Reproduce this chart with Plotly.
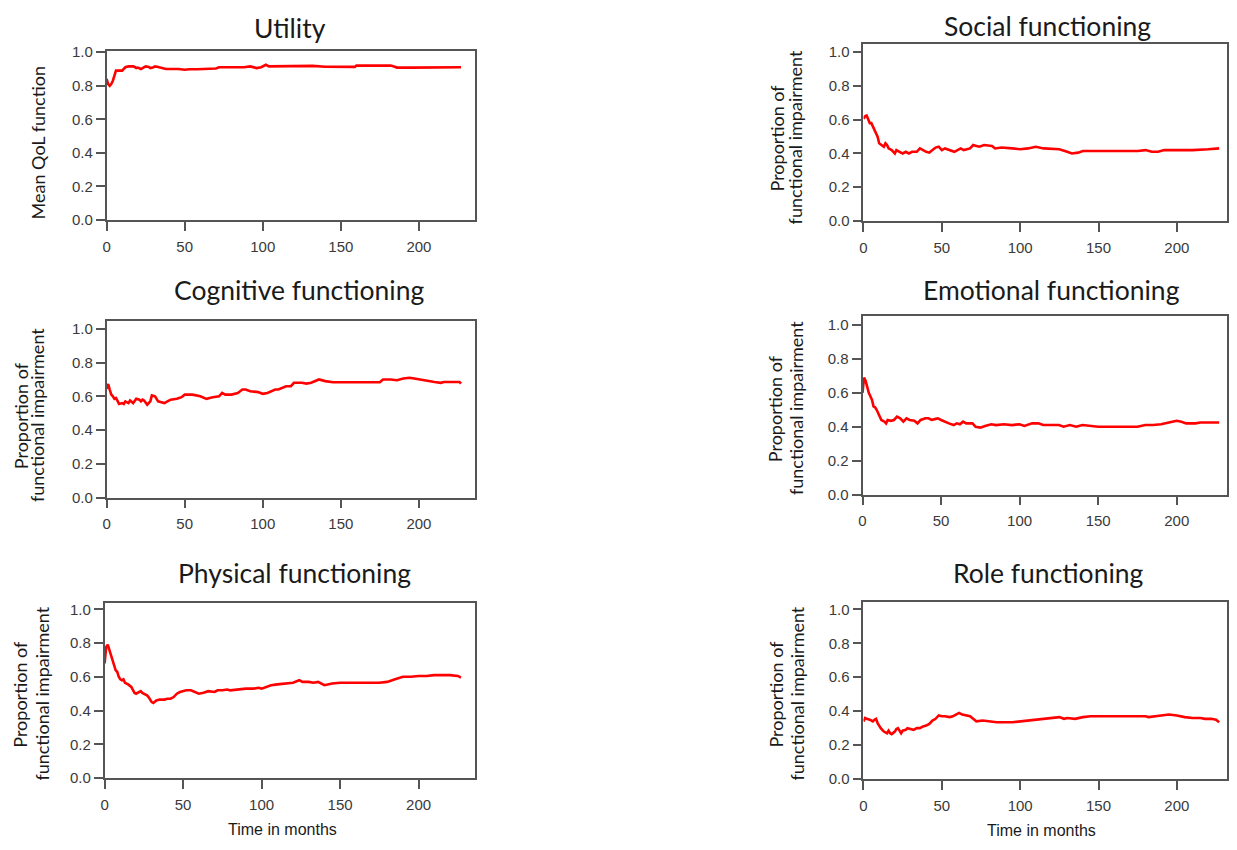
import plotly.graph_objects as go

# ---------------- data ----------------
utility_months = [0, 1, 2, 3, 4, 5, 6, 8, 10, 11, 12, 14, 16, 17, 18, 19, 20, 21, 22, 23, 25, 27, 28, 30, 31,
                  33, 35, 38, 42, 46, 50, 53, 58, 63, 65, 70, 72, 75, 78, 82, 85, 88, 92, 94, 96, 99, 101, 102,
                  104, 110, 120, 130, 132, 140, 150, 159, 160, 165, 175, 182, 184, 186, 195, 210, 227]
utility_values = [0.84, 0.81, 0.80, 0.81, 0.83, 0.86, 0.89, 0.89, 0.89, 0.90, 0.91, 0.915, 0.917, 0.915, 0.912,
                  0.905, 0.908, 0.905, 0.90, 0.905, 0.915, 0.912, 0.905, 0.91, 0.915, 0.912, 0.908, 0.90, 0.90,
                  0.90, 0.895, 0.898, 0.898, 0.90, 0.905, 0.903, 0.91, 0.91, 0.913, 0.91, 0.912, 0.91, 0.915,
                  0.912, 0.905, 0.91, 0.92, 0.925, 0.915, 0.915, 0.914, 0.915, 0.918, 0.913, 0.912, 0.912, 0.92,
                  0.92, 0.92, 0.92, 0.915, 0.908, 0.908, 0.908, 0.91]

social_months = [0, 1, 2, 3, 4, 5, 6, 7, 8, 9, 10, 12, 13, 14, 15, 16, 18, 20, 21, 23, 25, 27, 29, 31, 34, 36,
                 38, 40, 42, 44, 46, 48, 50, 52, 55, 58, 62, 64, 68, 70, 72, 74, 77, 82, 84, 88, 95, 100, 105,
                 110, 115, 125, 130, 133, 137, 140, 175, 180, 184, 188, 192, 200, 210, 220, 227]
social_values = [0.606, 0.62, 0.625, 0.60, 0.58, 0.58, 0.56, 0.55, 0.52, 0.50, 0.46, 0.45, 0.44, 0.46, 0.45,
                 0.43, 0.42, 0.40, 0.42, 0.41, 0.40, 0.41, 0.40, 0.41, 0.41, 0.43, 0.42, 0.41, 0.405, 0.42,
                 0.435, 0.44, 0.42, 0.43, 0.42, 0.41, 0.43, 0.42, 0.43, 0.45, 0.445, 0.44, 0.45, 0.445, 0.43,
                 0.435, 0.43, 0.425, 0.43, 0.44, 0.43, 0.425, 0.41, 0.40, 0.405, 0.415, 0.415, 0.42, 0.41,
                 0.41, 0.42, 0.42, 0.42, 0.425, 0.43]

cognitive_months = [0, 1, 2, 3, 4, 5, 6, 7, 8, 10, 11, 12, 14, 15, 17, 19, 21, 22, 23, 24, 25, 26, 28, 29, 31,
                    33, 35, 37, 39, 41, 45, 48, 50, 55, 60, 64, 66, 68, 72, 74, 76, 80, 84, 87, 89, 92, 97, 100,
                    103, 106, 108, 110, 112, 115, 118, 120, 125, 128, 131, 134, 136, 140, 145, 175, 177, 182,
                    186, 190, 194, 197, 200, 205, 210, 214, 216, 222, 226, 227]
cognitive_values = [0.644, 0.673, 0.64, 0.61, 0.60, 0.585, 0.59, 0.57, 0.555, 0.56, 0.555, 0.57, 0.56, 0.575,
                    0.56, 0.585, 0.58, 0.57, 0.58, 0.575, 0.56, 0.55, 0.57, 0.605, 0.60, 0.57, 0.565, 0.56,
                    0.57, 0.58, 0.585, 0.595, 0.61, 0.61, 0.60, 0.585, 0.59, 0.595, 0.60, 0.62, 0.61, 0.61,
                    0.62, 0.64, 0.64, 0.63, 0.625, 0.615, 0.62, 0.63, 0.64, 0.64, 0.65, 0.66, 0.66, 0.68, 0.68,
                    0.675, 0.68, 0.69, 0.70, 0.69, 0.683, 0.683, 0.70, 0.70, 0.695, 0.705, 0.71, 0.705, 0.70,
                    0.69, 0.685, 0.68, 0.685, 0.685, 0.685, 0.675]

emotional_months = [0, 1, 2, 3, 4, 5, 6, 7, 8, 9, 10, 11, 12, 14, 15, 16, 18, 20, 22, 24, 26, 28, 30, 33, 35,
                    37, 40, 42, 44, 46, 48, 50, 52, 55, 58, 60, 62, 64, 66, 70, 72, 75, 78, 82, 85, 90, 95, 100,
                    103, 108, 112, 115, 125, 128, 132, 136, 140, 145, 150, 175, 180, 185, 190, 195, 200, 203,
                    206, 212, 215, 227]
emotional_values = [0.60, 0.69, 0.67, 0.63, 0.60, 0.58, 0.56, 0.52, 0.515, 0.50, 0.48, 0.46, 0.44, 0.43, 0.42,
                    0.44, 0.435, 0.44, 0.46, 0.45, 0.43, 0.45, 0.44, 0.435, 0.42, 0.44, 0.45, 0.45, 0.44,
                    0.445, 0.45, 0.44, 0.43, 0.42, 0.41, 0.42, 0.415, 0.43, 0.42, 0.42, 0.40, 0.395, 0.405,
                    0.415, 0.41, 0.415, 0.41, 0.415, 0.405, 0.42, 0.42, 0.41, 0.41, 0.40, 0.41, 0.40, 0.41,
                    0.405, 0.40, 0.40, 0.41, 0.41, 0.415, 0.425, 0.435, 0.43, 0.42, 0.42, 0.425, 0.425]

physical_months = [0, 1, 2, 3, 4, 5, 6, 7, 8, 9, 10, 11, 12, 13, 14, 15, 17, 18, 19, 20, 22, 23, 24, 25, 27,
                   28, 30, 31, 33, 35, 38, 40, 42, 44, 46, 48, 50, 52, 55, 58, 60, 63, 66, 70, 72, 75, 78, 80,
                   85, 90, 95, 98, 100, 103, 106, 110, 115, 120, 124, 126, 130, 133, 136, 140, 145, 150, 175,
                   180, 185, 190, 195, 200, 205, 210, 215, 220, 225, 227]
physical_values = [0.68, 0.777, 0.79, 0.76, 0.72, 0.69, 0.66, 0.64, 0.63, 0.60, 0.585, 0.58, 0.585, 0.565,
                   0.56, 0.555, 0.54, 0.52, 0.505, 0.50, 0.51, 0.515, 0.505, 0.50, 0.49, 0.48, 0.45, 0.445,
                   0.46, 0.465, 0.465, 0.47, 0.47, 0.48, 0.50, 0.51, 0.515, 0.52, 0.52, 0.51, 0.50, 0.505,
                   0.515, 0.51, 0.52, 0.52, 0.525, 0.52, 0.525, 0.53, 0.53, 0.535, 0.53, 0.54, 0.55, 0.555,
                   0.56, 0.565, 0.58, 0.57, 0.57, 0.565, 0.57, 0.55, 0.56, 0.565, 0.565, 0.57, 0.585, 0.60,
                   0.60, 0.605, 0.605, 0.61, 0.61, 0.61, 0.605, 0.595]

role_months = [0, 1, 2, 3, 4, 5, 6, 7, 8, 9, 10, 11, 12, 13, 15, 16, 17, 18, 20, 21, 22, 23, 24, 25, 27, 28,
               30, 32, 34, 36, 38, 40, 42, 44, 46, 48, 50, 52, 55, 57, 59, 61, 63, 65, 68, 70, 72, 76, 80, 85,
               95, 100, 105, 110, 115, 120, 125, 128, 130, 135, 140, 145, 175, 180, 182, 185, 190, 195, 200,
               205, 210, 215, 218, 222, 225, 227]
role_values = [0.34, 0.36, 0.355, 0.35, 0.35, 0.345, 0.34, 0.35, 0.355, 0.33, 0.31, 0.30, 0.29, 0.28, 0.27,
               0.285, 0.27, 0.265, 0.28, 0.295, 0.30, 0.28, 0.27, 0.285, 0.29, 0.30, 0.295, 0.29, 0.30, 0.30,
               0.31, 0.315, 0.325, 0.345, 0.355, 0.375, 0.37, 0.37, 0.365, 0.37, 0.38, 0.39, 0.38, 0.375,
               0.37, 0.355, 0.34, 0.345, 0.34, 0.335, 0.335, 0.34, 0.345, 0.35, 0.355, 0.36, 0.365, 0.355,
               0.36, 0.355, 0.365, 0.37, 0.37, 0.37, 0.365, 0.37, 0.375, 0.38, 0.375, 0.365, 0.36, 0.36,
               0.355, 0.355, 0.35, 0.335]

panel_titles = ["Utility", "Social functioning", "Cognitive functioning",
                "Emotional functioning", "Physical functioning", "Role functioning"]
x_ticks = [0, 50, 100, 150, 200]
y_ticks = [0.0, 0.2, 0.4, 0.6, 0.8, 1.0]
y_tick_labels = ["0.0", "0.2", "0.4", "0.6", "0.8", "1.0"]

# ---------------- layout helpers ----------------
# The page body keeps its default 8px margin, so the figure is made 16px smaller
# than the window and every page-pixel position is shifted by that margin.
PAGE_W, PAGE_H = 1237, 850
MARGIN = 8
W, H = PAGE_W - 2 * MARGIN, PAGE_H - 2 * MARGIN


def clamp(v):
    return min(1.0, max(0.0, v))


def px_x(v):
    return clamp((v - MARGIN) / W)


def px_y(v):
    return clamp(1 - (v - MARGIN) / H)


series = [
    (utility_months, utility_values),
    (social_months, social_values),
    (cognitive_months, cognitive_values),
    (emotional_months, emotional_values),
    (physical_months, physical_values),
    (role_months, role_values),
]

# plot boxes in page pixels: (left, right, top, bottom), y range top
boxes = [
    (103, 473, 44, 216, 1.005),
    (863, 1228, 37, 217, 1.046),
    (103, 473, 319, 499, 1.046),
    (862, 1228, 314, 496, 1.052),
    (101, 473, 606, 785, 1.04),
    (863, 1228, 605, 786, 1.046),
]
x_tops = [236, 232, 236, 232, 236, 232]

fig = go.Figure()
axis_col = "#555555"
tick_font = dict(family="Liberation Sans, Arial, sans-serif", size=15, color="#3a3a3a")
label_font = "Lato, Carlito, Calibri, sans-serif"

for i, ((xs, ys), (l, r, t, b, ytop), xtop) in enumerate(zip(series, boxes, x_tops)):
    n = "" if i == 0 else str(i + 1)
    fig.add_trace(go.Scatter(x=xs, y=ys, mode="lines",
                             line=dict(color="#ff0000", width=2.6),
                             xaxis="x" + n, yaxis="y" + n, showlegend=False,
                             hoverinfo="x+y"))
    fig.layout["xaxis" + n] = dict(
        domain=[px_x(l), px_x(r)], anchor="y" + n, range=[0, xtop],
        tickvals=x_ticks, ticks="outside", ticklen=9, tickwidth=1.6, tickcolor=axis_col,
        ticklabelstandoff=3,
        showline=True, linecolor=axis_col, linewidth=1.7, mirror=True,
        showgrid=False, zeroline=False, tickfont=tick_font)
    fig.layout["yaxis" + n] = dict(
        domain=[px_y(b), px_y(t)], anchor="x" + n, range=[0, ytop],
        tickvals=y_ticks, ticktext=y_tick_labels, ticks="outside", ticklen=9, tickwidth=1.6,
        tickcolor=axis_col, showline=True, linecolor=axis_col, linewidth=1.7, mirror=True,
        showgrid=False, zeroline=False, tickfont=tick_font)

annotations = []

# panel titles (center x, center y in page px)
title_pos = [(287, 20), (1048, 18), (297, 287), (1052, 287), (292, 576), (1049, 576)]
for text, (cx, cy) in zip(panel_titles, title_pos):
    annotations.append(dict(text=text, x=px_x(cx), y=px_y(cy), xref="paper", yref="paper",
                            xanchor="center", yanchor="middle", showarrow=False,
                            font=dict(family=label_font, size=26.5, color="#1a1a1a")))

# y-axis titles
annotations.append(dict(text="Mean QoL function", x=px_x(34), y=px_y(137), xref="paper", yref="paper",
                        xanchor="center", yanchor="middle", showarrow=False, textangle=-90,
                        font=dict(family=label_font, size=18, color="#1a1a1a")))
ytitle_pos = [
    (776, 794, 132),
    (17, 33, 415),
    (774, 796, 408),
    (16, 38, 699),
    (775, 796, 699),
]
for x1, x2, cy in ytitle_pos:
    for txt, cx in (("Proportion of", x1), ("functional impairment", x2)):
        annotations.append(dict(text=txt, x=px_x(cx), y=px_y(cy), xref="paper", yref="paper",
                                xanchor="center", yanchor="middle", showarrow=False, textangle=-90,
                                font=dict(family=label_font, size=18, color="#1a1a1a")))

# x-axis titles
for cx, cy in ((280, 837), (1042, 838)):
    annotations.append(dict(text="Time in months", x=px_x(cx), y=px_y(cy), xref="paper", yref="paper",
                            xanchor="center", yanchor="middle", showarrow=False,
                            font=dict(family="Liberation Sans, Arial, sans-serif", size=16,
                                      color="#1a1a1a")))

fig.update_layout(width=W, height=H, margin=dict(l=0, r=0, t=0, b=0),
                  paper_bgcolor="white", plot_bgcolor="white", annotations=annotations)

fig.write_html("out.html", config={"displayModeBar": False})
